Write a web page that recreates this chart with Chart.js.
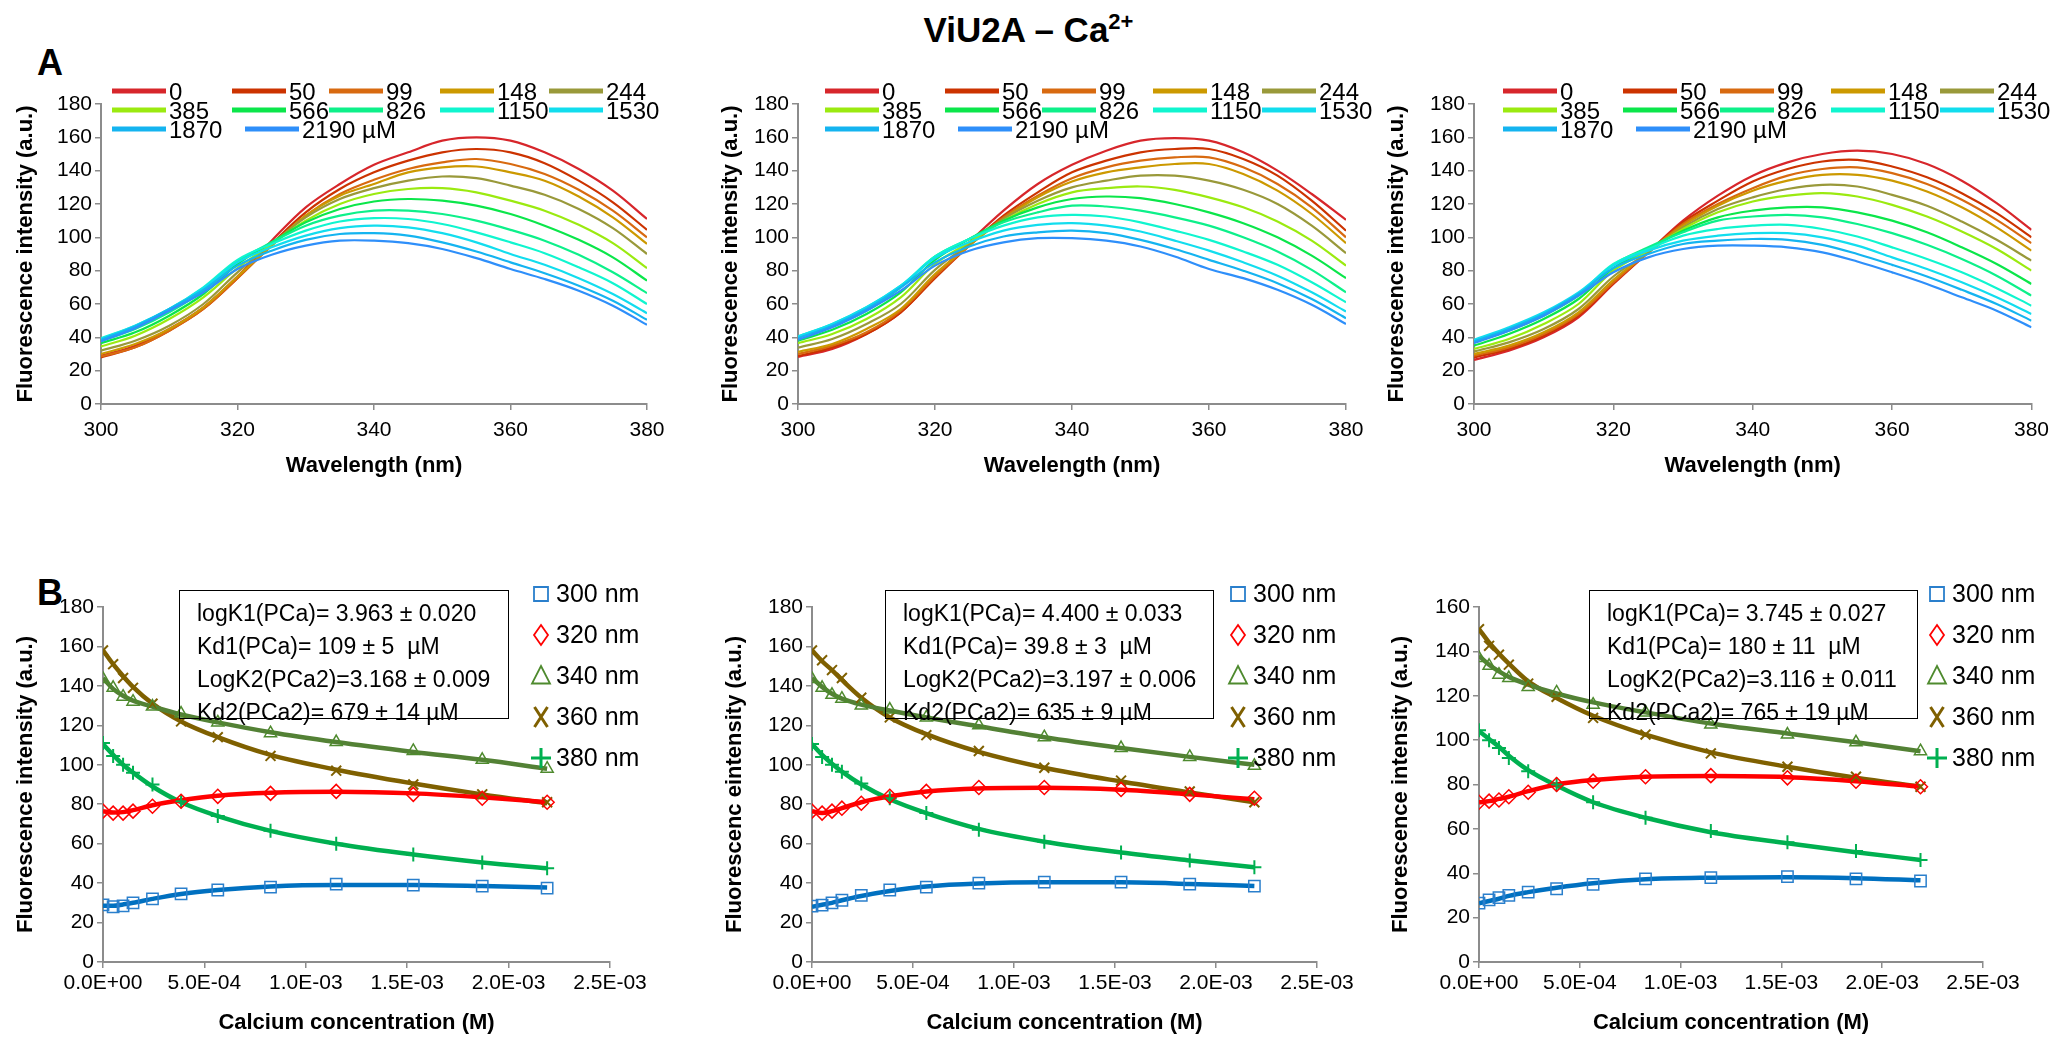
<!DOCTYPE html>
<html>
<head>
<meta charset="utf-8">
<title>ViU2A – Ca2+</title>
<script src="https://cdn.jsdelivr.net/npm/chart.js@4.4.0/dist/chart.umd.min.js"></script>
<style>
  html, body { margin: 0; padding: 0; background: #fff; }
  body { width: 2057px; height: 1041px; position: relative; overflow: hidden;
         font-family: 'Liberation Sans Narrow', 'Liberation Sans', sans-serif; color: #000; }
  canvas { position: absolute; }
  .title { position: absolute; left: 0; width: 2057px; top: 9px; text-align: center; font-weight: bold; font-size: 35px; }
  .title sup { font-size: 22px; }
  .panel { position: absolute; font-weight: bold; font-size: 36px; }
  .box { position: absolute; top: 590px; height: 129px; border: 1.5px solid #000; box-sizing: border-box;
         font-size: 23px; line-height: 33px; padding: 6px 0 0 17px; white-space: nowrap; }
</style>
</head>
<body>
<div class="title">ViU2A – Ca<sup>2+</sup></div>
<div class="panel" style="left:37px;top:42px">A</div>
<div class="panel" style="left:37px;top:572px">B</div>

<canvas id="topLeft" width="680" height="430" style="left:0;top:60px"></canvas>
<canvas id="topMid" width="680" height="430" style="left:700px;top:60px"></canvas>
<canvas id="topRight" width="682" height="430" style="left:1375px;top:60px"></canvas>
<canvas id="botLeft" width="700" height="481" style="left:0;top:560px"></canvas>
<canvas id="botMid" width="680" height="481" style="left:700px;top:560px"></canvas>
<canvas id="botRight" width="682" height="481" style="left:1375px;top:560px"></canvas>

<div class="box" style="left:179px;width:330px">logK1(PCa)= 3.963 ± 0.020<br>Kd1(PCa)= 109 ± 5&nbsp; µM<br>LogK2(PCa2)=3.168 ± 0.009<br>Kd2(PCa2)= 679 ± 14 µM</div>
<div class="box" style="left:885px;width:329px">logK1(PCa)= 4.400 ± 0.033<br>Kd1(PCa)= 39.8 ± 3&nbsp; µM<br>LogK2(PCa2)=3.197 ± 0.006<br>Kd2(PCa2)= 635 ± 9 µM</div>
<div class="box" style="left:1589px;width:329px">logK1(PCa)= 3.745 ± 0.027<br>Kd1(PCa)= 180 ± 11&nbsp; µM<br>LogK2(PCa2)=3.116 ± 0.011<br>Kd2(PCa2)= 765 ± 19 µM</div>

<script>
// ---- spectra (panel A) ----
const wavelengths = [300, 305, 310, 315, 320, 325, 330, 335, 340, 345, 350, 355, 360, 365, 370, 375, 380];
const concLabels = ['0', '50', '99', '148', '244', '385', '566', '826', '1150', '1530', '1870', '2190 µM'];
const specColors = ['#D7262B', '#CC3300', '#D86A10', '#CC9900', '#99993A', '#9BEA10',
                    '#0BE64A', '#0DF08A', '#10F5CF', '#12DDEE', '#14B4F0', '#2E8FFA'];

const specLeft = [
  [29, 35, 45, 58, 76.5, 98, 118, 132, 143.5, 151, 158, 160, 158, 151, 141, 128, 111],
  [28, 34, 44, 57, 75.5, 96, 115, 129, 139, 146, 151, 153, 151, 144.5, 134, 121, 104.5],
  [28.5, 34, 44, 57, 75.5, 95, 113, 126, 134.5, 141, 145, 147, 144, 138, 128.5, 116, 100],
  [30, 36, 45, 58, 76.5, 95, 113, 125, 132, 139, 142, 142.5, 139, 134, 124.5, 112, 96],
  [32, 38, 47, 60, 79, 96, 112, 123, 129.5, 134, 136.5, 135.5, 131, 125.5, 117, 105.5, 90],
  [34.5, 41, 51, 64, 81.5, 96, 110, 120, 126, 129, 129.5, 127, 122, 116, 107.5, 96.5, 81.5],
  [36.5, 43, 53, 66, 84, 97, 109, 117, 121.5, 123, 122, 119, 114, 107, 98.5, 88, 74],
  [38, 45, 55, 68, 85.5, 97, 107, 113, 116, 116, 114, 110, 104.5, 98, 89.5, 79, 66.5],
  [39.5, 47, 57, 70, 86.5, 96, 104, 109.5, 111.5, 111, 108, 103, 97, 90.5, 82, 72.5, 60],
  [39, 47, 57, 69.5, 85, 94, 101, 105.5, 107, 106, 102.5, 97, 90, 83.5, 75.5, 66, 54.5],
  [38.5, 46.5, 57, 68.5, 83, 92, 98.5, 102, 102.5, 101, 97, 91.5, 85, 78.5, 71, 62, 50.5],
  [37.5, 45.5, 56, 67, 81, 89.5, 95, 98, 98, 96.5, 93, 87.5, 81, 75, 68, 59, 47.5]
];
const specMid = [
  [28.3, 33, 42, 55, 76.5, 97, 116, 132, 143.5, 152, 158, 159.5, 158, 151, 140, 126, 110.5],
  [28.8, 34, 42, 55, 75.5, 95, 113, 127, 139, 146, 151, 153, 153, 147, 137, 122, 104],
  [30, 35, 43, 56, 76.5, 95, 112, 125, 135.5, 142, 146, 148, 148, 142, 132, 118, 100],
  [31.3, 36, 45, 57, 78, 95, 111, 124, 133.5, 139, 142, 144, 144, 138, 128, 114, 96.5],
  [33.8, 39, 48, 60, 80.5, 96, 111, 122, 130, 134, 137, 137, 134, 128.5, 120, 107, 90.5],
  [36.5, 42, 51, 64, 84, 97, 110, 120, 127, 129.5, 130.5, 128.5, 124, 118, 109.5, 98, 83],
  [38, 44.5, 54, 67, 86.5, 99, 110, 118, 123, 124.5, 123.5, 120, 115, 108.5, 100, 89, 75.5],
  [40, 47, 56, 70, 88.5, 99, 109, 115, 119, 118.5, 116, 112, 107, 100, 91.5, 80.5, 67],
  [40.5, 48, 58, 71, 88.5, 99, 107, 112, 113.5, 112.5, 109, 104, 98.5, 91.5, 83.5, 73, 61],
  [40.5, 48, 58, 71, 87.5, 97, 104, 107.5, 108.5, 107, 103.5, 98, 92, 85, 77, 67, 55.5],
  [39.5, 47, 57, 70, 85, 94.5, 100.5, 103, 104, 102.5, 98.5, 93, 86.5, 80, 72.5, 63, 51.5],
  [38.5, 46, 56, 68, 83, 92, 97, 99.5, 99.5, 98, 94.5, 88.5, 81, 75.5, 68.5, 59.5, 48]
];
const specRight = [
  [26.5, 32, 40, 52, 72, 91, 110, 125, 137, 145, 150, 152, 150, 144, 134, 120.5, 104.5],
  [28, 33, 41, 53, 72.5, 91, 109, 122, 133.5, 141, 145.5, 146.5, 142.5, 136, 126.5, 114.5, 100],
  [29, 34, 42, 54, 73, 91, 108, 120, 129.5, 137, 141, 142, 138.5, 132, 122.5, 110.5, 96.5],
  [30, 35, 43, 55, 74.5, 91, 107, 119, 128, 134, 137.5, 137.5, 134, 127.5, 118, 106, 92],
  [31.5, 37, 45, 57, 76.5, 91, 106, 117, 124, 129, 131.5, 130.5, 125.5, 119, 109.5, 98.5, 86],
  [33, 39, 48, 60, 80, 92, 105, 115, 121.5, 125, 126.5, 124.5, 119.5, 112.5, 103.5, 93, 80],
  [35, 42, 51, 63, 81.5, 93, 104, 112, 116, 118, 118, 115, 110, 103, 94, 84, 72],
  [37.5, 44, 53, 65, 83.5, 94, 103, 110, 112.5, 113.5, 112, 108, 102.5, 95.5, 87, 77, 65],
  [38, 45, 54, 66, 84, 93, 101, 105, 107, 107.5, 105, 100.5, 94, 87, 79, 69.5, 59],
  [38.5, 46, 55, 67, 83, 92, 98, 101, 102.5, 102.5, 100, 95, 88, 81, 73, 64, 54],
  [37.5, 45, 54, 66, 81.5, 90, 96, 98, 99, 98.5, 95.5, 90, 83.5, 76.5, 68.5, 60, 50],
  [36.5, 44, 53, 65, 79, 88, 93, 95, 95, 94, 91, 85.5, 79, 72, 64, 56, 46]
];

// ---- titration (panel B) ----
const concM = [0, 0.00005, 0.000099, 0.000148, 0.000244, 0.000385, 0.000566, 0.000826, 0.00115, 0.00153, 0.00187, 0.00219];
const waveLabels = ['300 nm', '320 nm', '340 nm', '360 nm', '380 nm'];
const markerStyles = ['rect', 'rectRot', 'triangle', 'crossRot', 'cross'];
const lineColors = ['#0070C0', '#FF0000', '#538135', '#7F6000', '#00B050'];
const markColors = ['#2A7FCC', '#FF0000', '#4E8A2E', '#7F6000', '#00B050'];

const ptsLeft = [
  [29, 28, 28.5, 30, 32, 34.5, 36.5, 38, 39.5, 39, 38.5, 37.5],
  [76.5, 75.5, 75.5, 76.5, 79, 81.5, 84, 85.5, 86.5, 85, 83, 81],
  [143.5, 139, 134.5, 132, 129.5, 126, 121.5, 116, 111.5, 107, 102.5, 98],
  [158, 151, 144, 139, 131, 122, 114, 104.5, 97, 90, 85, 81],
  [111, 104.5, 100, 96, 90, 81.5, 74, 66.5, 60, 54.5, 50.5, 47.5]
];
const fitLeft = [
  [28.5, 28.5, 29.2, 30, 32, 34.5, 36.5, 38.3, 39, 39, 38.5, 37.8],
  [76.5, 75.8, 76, 77, 79.5, 82, 84.3, 85.8, 86.3, 85.5, 83.5, 81],
  [144, 138.5, 135, 132.5, 129.5, 125.5, 121.5, 116.5, 111.5, 106.5, 102.5, 98],
  [158, 151, 145, 139.5, 131, 122, 114, 105, 97.5, 90.5, 85, 80.5],
  [110.5, 105, 100, 96, 89, 81, 74, 66.5, 60, 54.5, 50.5, 47.5]
];
const ptsMid = [
  [28.3, 28.8, 30, 31.3, 33.8, 36.5, 38, 40, 40.5, 40.5, 39.5, 38.5],
  [76.5, 75.5, 76.5, 78, 80.5, 84, 86.5, 88.5, 88.5, 87.5, 85, 83],
  [143.5, 139, 135.5, 133.5, 130, 128, 124, 120, 114, 108.5, 104, 99.5],
  [158, 153, 148, 144, 134, 124, 115, 107, 98.5, 92, 86.5, 81],
  [110.5, 104, 100, 96.5, 90.5, 83, 75.5, 67, 61, 55.5, 51.5, 48]
];
const fitMid = [
  [28, 29, 30, 31.3, 33.5, 36, 38.3, 39.8, 40.4, 40.4, 39.6, 38.5],
  [76.5, 75.5, 76.5, 78, 81, 84, 86.5, 88, 88.3, 87.3, 85, 82.5],
  [144, 139.5, 136, 133.5, 130.5, 127.5, 124, 119.5, 114, 108.5, 104, 100],
  [158, 152.5, 148, 143, 134, 124, 115.5, 106.5, 98.5, 91.5, 86, 81],
  [110.5, 105, 100.5, 96.5, 90, 82.5, 75.5, 67.5, 61, 55.5, 51.5, 48]
];
const ptsRight = [
  [26.5, 28, 29, 30, 31.5, 33, 35, 37.5, 38, 38.5, 37.5, 36.5],
  [72, 72.5, 73, 74.5, 76.5, 80, 81.5, 83.5, 84, 83, 81.5, 79],
  [137, 133.5, 129.5, 128, 124, 121.5, 116, 112.5, 107, 102.5, 99, 95],
  [150, 142.5, 138.5, 134, 125.5, 119.5, 110, 102.5, 94, 88, 83.5, 79],
  [104.5, 100, 96.5, 92, 86, 80, 72, 65, 59, 54, 50, 46]
];
const fitRight = [
  [26.5, 27.5, 28.5, 29.8, 31.5, 33.5, 35.5, 37.3, 38, 38.2, 37.8, 36.8],
  [72, 72.5, 73.5, 74.5, 77, 80, 82, 83.5, 83.8, 83.3, 81.5, 79],
  [138, 134, 131, 128.5, 125, 121, 117, 112.5, 107.5, 103, 99, 95],
  [150, 144, 139, 134.5, 126.5, 119, 111, 102.5, 94.5, 88, 83, 79],
  [104, 100.5, 97, 93, 86.5, 79.5, 72, 65, 58.5, 53.5, 49.5, 46]
];

const FONT = "'Liberation Sans Narrow', 'Liberation Sans', sans-serif";
Chart.defaults.font.family = FONT;
Chart.defaults.color = '#000';
Chart.defaults.animation = false;

// 0.0E+00 style labels like the spreadsheet
function sci(v) {
  if (Math.abs(v) < 1e-12) return '0.0E+00';
  const parts = v.toExponential(1).split('e');
  const n = parseInt(parts[1], 10);
  return parts[0] + 'E' + (n < 0 ? '-' : '+') + String(Math.abs(n)).padStart(2, '0');
}

function axis(o) {
  return {
    type: 'linear', min: o.min, max: o.max,
    ticks: { stepSize: o.step, font: { size: 21 }, color: '#000', padding: o.tickPad || 3, autoSkip: false, maxRotation: 0,
             callback: o.fmt || (v => v) },
    grid: { drawOnChartArea: false, drawTicks: true, tickLength: 6, color: '#8C8C8C', lineWidth: 1.5 },
    border: { color: '#8C8C8C', width: 2 },
    title: { display: true, text: o.title, font: { size: 22, weight: 'bold' }, padding: { top: 4, bottom: 4 } },
    afterFit(s) {
      if (o.w) s.width = o.w;
      if (o.h) s.height = o.h;
    }
  };
}

function drawMark(ctx, style, x, y, r) {
  ctx.beginPath();
  if (style === 'rect') {
    ctx.rect(x - r * 0.7, y - r * 0.7, r * 1.4, r * 1.4);
  } else if (style === 'rectRot') {
    ctx.moveTo(x, y - r); ctx.lineTo(x + r * 0.7, y); ctx.lineTo(x, y + r); ctx.lineTo(x - r * 0.7, y); ctx.closePath();
  } else if (style === 'triangle') {
    ctx.moveTo(x, y - r); ctx.lineTo(x + r * 0.9, y + r * 0.75); ctx.lineTo(x - r * 0.9, y + r * 0.75); ctx.closePath();
  } else if (style === 'crossRot') {
    ctx.moveTo(x - r * 0.65, y - r); ctx.lineTo(x + r * 0.65, y + r);
    ctx.moveTo(x + r * 0.65, y - r); ctx.lineTo(x - r * 0.65, y + r);
  } else {
    ctx.moveTo(x - r, y); ctx.lineTo(x + r, y); ctx.moveTo(x, y - r); ctx.lineTo(x, y + r);
  }
  ctx.stroke();
}

// legend drawn over the plot, at spreadsheet-like spots
const placedLegend = {
  id: 'placedLegend',
  afterDraw(chart, args, o) {
    if (!o.entries) return;
    const a = chart.chartArea, ctx = chart.ctx;
    ctx.save();
    ctx.font = o.size + 'px ' + FONT;
    ctx.textBaseline = 'middle';
    ctx.fillStyle = '#000';
    o.entries.forEach(e => {
      const ds = chart.data.datasets[e.index];
      const x = a.left + e.x, y = a.top + e.y;
      ctx.strokeStyle = ds.borderColor;
      if (o.kind === 'line') {
        ctx.lineWidth = 5;
        ctx.beginPath(); ctx.moveTo(x, y); ctx.lineTo(x + 54, y); ctx.stroke();
        ctx.fillText(ds.label, x + 57, y + 2);
      } else {
        ctx.lineWidth = (ds.pointStyle === 'cross' || ds.pointStyle === 'crossRot') ? 3 : 1.8;
        drawMark(ctx, ds.pointStyle, x, y, 10);
        ctx.fillText(ds.label, x + 15, y + 1);
      }
    });
    ctx.restore();
  }
};

function spectraChart(id, rows, p) {
  const cols = [0, 120, 217, 328, 437];
  const rowY = [-13, 6, 25];
  const entries = rows.map((r, i) => {
    if (i < 10) return { index: i, x: p.legendDx + cols[i % 5], y: rowY[Math.floor(i / 5)] };
    return { index: i, x: p.legendDx + (i === 10 ? 0 : 133), y: rowY[2] };
  });
  new Chart(document.getElementById(id), {
    type: 'line',
    data: {
      datasets: rows.map((r, i) => ({
        label: concLabels[i],
        data: wavelengths.map((w, j) => ({ x: w, y: r[j] })),
        borderColor: specColors[i],
        borderWidth: 2.2,
        pointRadius: 0,
        tension: 0.35,
        order: 12 - i
      }))
    },
    options: {
      responsive: false,
      layout: { padding: p.pad },
      scales: {
        x: axis({ min: 300, max: 380, step: 20, title: 'Wavelength (nm)', h: 79, tickPad: 8 }),
        y: axis({ min: 0, max: 180, step: 20, title: 'Fluorescence intensity (a.u.)', w: p.yw })
      },
      plugins: {
        legend: { display: false },
        tooltip: { enabled: false },
        placedLegend: { kind: 'line', size: 24, entries: entries }
      }
    },
    plugins: [placedLegend]
  });
}

function titrationChart(id, pts, fit, p) {
  const lines = fit.map((r, k) => ({
    label: waveLabels[k] + ' fit',
    data: concM.map((c, j) => ({ x: c, y: r[j] })),
    borderColor: lineColors[k],
    borderWidth: 4.5,
    pointRadius: 0,
    cubicInterpolationMode: 'monotone',
    order: 10
  }));
  const marks = pts.map((r, k) => ({
    label: waveLabels[k],
    data: concM.map((c, j) => ({ x: c, y: r[j] })),
    showLine: false,
    borderColor: markColors[k],
    pointStyle: markerStyles[k],
    pointRadius: k === 0 ? 8 : 7,
    pointBorderColor: markColors[k],
    pointBackgroundColor: 'rgba(255,255,255,0)',
    pointBorderWidth: k >= 3 ? 2 : 1.5,
    order: 0
  }));
  const rowY = [-13, 28, 69, 110, 151];
  const entries = marks.map((m, k) => ({ index: 5 + k, x: p.legendDx, y: rowY[k] }));
  new Chart(document.getElementById(id), {
    type: 'line',
    data: { datasets: lines.concat(marks) },
    options: {
      responsive: false,
      layout: { padding: p.pad },
      scales: {
        x: axis({ min: 0, max: 0.0025, step: 0.0005, fmt: sci, title: 'Calcium concentration (M)', h: 78 }),
        y: axis({ min: 0, max: p.ymax, step: 20, title: p.ytitle, w: p.yw })
      },
      plugins: {
        legend: { display: false },
        tooltip: { enabled: false },
        placedLegend: { kind: 'mark', size: 25, entries: entries }
      }
    },
    plugins: [placedLegend]
  });
}

spectraChart('topLeft', specLeft, { pad: { left: 9, right: 33, top: 44, bottom: 7 }, yw: 92, legendDx: 11 });
spectraChart('topMid', specMid, { pad: { left: 14, right: 34, top: 44, bottom: 7 }, yw: 84, legendDx: 27 });
spectraChart('topRight', specRight, { pad: { left: 5, right: 19, top: 44, bottom: 7 }, yw: 94, legendDx: 29 });

titrationChart('botLeft', ptsLeft, fitLeft, { pad: { left: 9, right: 90, top: 47, bottom: 1 }, yw: 94, legendDx: 438,
  ymax: 180, ytitle: 'Fluorescence intensity (a.u.)' });
titrationChart('botMid', ptsMid, fitMid, { pad: { left: 18, right: 63, top: 47, bottom: 1 }, yw: 94, legendDx: 426,
  ymax: 180, ytitle: 'Fluorescenc eintensity (a.u.)' });
titrationChart('botRight', ptsRight, fitRight, { pad: { left: 9, right: 74, top: 47, bottom: 1 }, yw: 95, legendDx: 458,
  ymax: 160, ytitle: 'Fluorescence intensity (a.u.)' });
</script>
</body>
</html>
